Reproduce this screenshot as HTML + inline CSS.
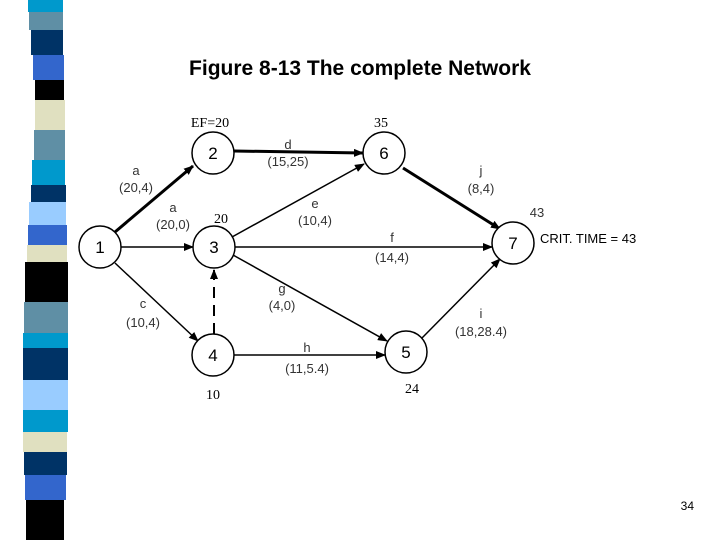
<!DOCTYPE html>
<html><head><style>
body{margin:0;width:720px;height:540px;background:#fff;overflow:hidden;position:relative;font-family:"Liberation Sans",sans-serif}
</style></head><body>
<svg width="720" height="540" style="position:absolute;left:0;top:0">
<defs>
<marker id="ar" markerWidth="10" markerHeight="8" refX="9" refY="4" orient="auto" markerUnits="userSpaceOnUse"><path d="M0,0 L10,4 L0,8 z" fill="#000"/></marker>
</defs>
<g>
<rect x="28" y="0" width="35" height="12" fill="#0099cc"/>
<rect x="29" y="12" width="34" height="18" fill="#5f8fa5"/>
<rect x="31" y="30" width="32" height="25" fill="#003366"/>
<rect x="33" y="55" width="31" height="25" fill="#3366cc"/>
<rect x="35" y="80" width="29" height="20" fill="#000"/>
<rect x="35" y="100" width="30" height="30" fill="#e0e0c0"/>
<rect x="34" y="130" width="31" height="30" fill="#5f8fa5"/>
<rect x="32" y="160" width="33" height="25" fill="#0099cc"/>
<rect x="31" y="185" width="35" height="17" fill="#003366"/>
<rect x="29" y="202" width="37" height="23" fill="#99ccff"/>
<rect x="28" y="225" width="39" height="20" fill="#3366cc"/>
<rect x="27" y="245" width="40" height="17" fill="#e0e0c0"/>
<rect x="25" y="262" width="43" height="40" fill="#000"/>
<rect x="24" y="302" width="44" height="31" fill="#5f8fa5"/>
<rect x="23" y="333" width="45" height="15" fill="#0099cc"/>
<rect x="23" y="348" width="45" height="32" fill="#003366"/>
<rect x="23" y="380" width="45" height="30" fill="#99ccff"/>
<rect x="23" y="410" width="45" height="22" fill="#0099cc"/>
<rect x="23" y="432" width="44" height="20" fill="#e0e0c0"/>
<rect x="24" y="452" width="43" height="23" fill="#003366"/>
<rect x="25" y="475" width="41" height="25" fill="#3366cc"/>
<rect x="26" y="500" width="38" height="40" fill="#000"/>
</g>
<g stroke="#000" fill="none">
<line x1="115" y1="232" x2="193" y2="166" stroke-width="3" marker-end="url(#ar)"/>
<line x1="121" y1="247" x2="193" y2="247" stroke-width="1.5" marker-end="url(#ar)"/>
<line x1="115" y1="263" x2="198" y2="341" stroke-width="1.5" marker-end="url(#ar)"/>
<line x1="234" y1="151" x2="363" y2="153" stroke-width="3" marker-end="url(#ar)"/>
<line x1="232" y1="237" x2="364" y2="164" stroke-width="1.5" marker-end="url(#ar)"/>
<line x1="235" y1="247" x2="492" y2="247" stroke-width="1.5" marker-end="url(#ar)"/>
<line x1="233" y1="255" x2="387" y2="341" stroke-width="1.5" marker-end="url(#ar)"/>
<line x1="214" y1="334" x2="214" y2="270" stroke-width="2" stroke-dasharray="11,7" marker-end="url(#ar)"/>
<line x1="234" y1="355" x2="385" y2="355" stroke-width="1.5" marker-end="url(#ar)"/>
<line x1="403" y1="168" x2="500" y2="229" stroke-width="3" marker-end="url(#ar)"/>
<line x1="421" y1="339" x2="500" y2="259" stroke-width="1.5" marker-end="url(#ar)"/>
</g>
<g stroke="#000" stroke-width="1.5" fill="#fff">
<circle cx="100" cy="247" r="21"/>
<circle cx="213" cy="153" r="21"/>
<circle cx="214" cy="247" r="21"/>
<circle cx="213" cy="355" r="21"/>
<circle cx="384" cy="153" r="21"/>
<circle cx="406" cy="352" r="21"/>
<circle cx="513" cy="243" r="21"/>
</g>
<g font-family="Liberation Sans,sans-serif" font-size="17" text-anchor="middle">
<text x="100" y="253">1</text><text x="213" y="159">2</text><text x="214" y="253">3</text>
<text x="213" y="361">4</text><text x="384" y="159">6</text><text x="406" y="358">5</text><text x="513" y="249">7</text>
</g>
<g font-family="Liberation Sans,sans-serif" font-size="13" fill="#333" text-anchor="middle">
<text x="136" y="175">a</text><text x="136" y="192">(20,4)</text>
<text x="173" y="212">a</text><text x="173" y="229">(20,0)</text>
<text x="288" y="149">d</text><text x="288" y="166">(15,25)</text>
<text x="315" y="208">e</text><text x="315" y="225">(10,4)</text>
<text x="392" y="242">f</text><text x="392" y="262">(14,4)</text>
<text x="282" y="293">g</text><text x="282" y="310">(4,0)</text>
<text x="143" y="308">c</text><text x="143" y="327">(10,4)</text>
<text x="307" y="352">h</text><text x="307" y="373">(11,5.4)</text>
<text x="481" y="175">j</text><text x="481" y="193">(8,4)</text>
<text x="481" y="318">i</text><text x="481" y="336">(18,28.4)</text>
<text x="537" y="217" font-size="13">43</text>
</g>
<g font-family="Liberation Serif,serif" font-size="14" text-anchor="middle">
<text x="210" y="127">EF=20</text><text x="381" y="127">35</text>
<text x="221" y="223">20</text><text x="213" y="399">10</text><text x="412" y="393">24</text>
</g>
<text x="540" y="243" font-family="Liberation Sans,sans-serif" font-size="13">CRIT. TIME = 43</text>
<text x="360" y="75" text-anchor="middle" font-family="Liberation Sans,sans-serif" font-size="21" font-weight="bold">Figure 8-13 The complete Network</text>
<text x="694" y="510" text-anchor="end" font-family="Liberation Sans,sans-serif" font-size="12">34</text>
</svg>
</body></html>
